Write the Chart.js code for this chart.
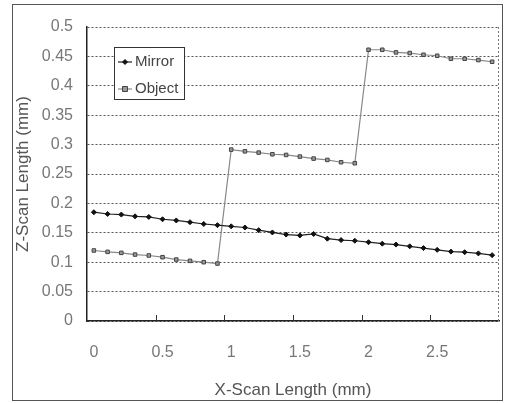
<!DOCTYPE html>
<html><head><meta charset="utf-8">
<script src="https://cdn.jsdelivr.net/npm/chart.js@4.4.1/dist/chart.umd.min.js"></script>
<style>
html,body{margin:0;padding:0;background:#fff;}
#wrap{position:relative;width:506px;height:403px;}
#frame{position:absolute;left:12px;top:4px;width:491px;height:397px;border:1px solid #555;box-sizing:border-box;pointer-events:none;}
canvas{position:absolute;left:0;top:0;}
</style></head><body>
<div id="wrap"><canvas id="c" width="506" height="403" style="width:506px;height:403px"></canvas><div id="frame"></div></div>
<script>
const xValues = [0,0.1,0.2,0.3,0.4,0.5,0.6,0.7,0.8,0.9,1.0,1.1,1.2,1.3,1.4,1.5,1.6,1.7,1.8,1.9,2.0,2.1,2.2,2.3,2.4,2.5,2.6,2.7,2.8,2.9];
const xTickLabels = ['0','0.5','1','1.5','2','2.5'];
const yTickLabels = ['0','0.05','0.1','0.15','0.2','0.25','0.3','0.35','0.4','0.45','0.5'];
const mirror = [0.185,0.182,0.181,0.178,0.177,0.173,0.171,0.168,0.165,0.163,0.161,0.159,0.1545,0.1506,0.147,0.1455,0.148,0.140,0.1376,0.1365,0.134,0.1315,0.130,0.127,0.124,0.121,0.118,0.117,0.115,0.112];
const object = [0.1199,0.1176,0.1159,0.113,0.1114,0.1085,0.1045,0.1023,0.100,0.0977,0.2915,0.2886,0.2864,0.2836,0.2824,0.2796,0.2762,0.2739,0.270,0.2683,0.4613,0.4613,0.4568,0.4557,0.4528,0.4511,0.446,0.446,0.4438,0.4409];

const FONT = "'Liberation Sans',Arial,sans-serif";

const extras = {
  id:'extras',
  afterDraw(chart){
    const {ctx, chartArea:a, scales:{x}} = chart;
    ctx.save();
    // right dotted edge
    ctx.strokeStyle='#777'; ctx.lineWidth=1; ctx.setLineDash([2,2]);
    ctx.beginPath(); ctx.moveTo(a.right-0.5,a.top); ctx.lineTo(a.right-0.5,a.bottom); ctx.stroke();
    ctx.setLineDash([]);
    // inward tick marks at category boundaries every 5 categories
    ctx.strokeStyle='#333';
    for(let i=5;i<xValues.length;i+=5){
      const px = Math.round((x.getPixelForValue(i-1)+x.getPixelForValue(i))/2)+0.5;
      ctx.beginPath(); ctx.moveTo(px,a.bottom); ctx.lineTo(px,a.bottom-6); ctx.stroke();
    }
    // legend
    const x0 = a.left+27, y0 = a.top+20, w=70, h=52;
    ctx.fillStyle='#fff'; ctx.fillRect(x0,y0,w,h);
    ctx.strokeStyle='#333'; ctx.strokeRect(x0+0.5,y0+0.5,w,h);
    chart.data.datasets.forEach((ds,i)=>{
      const cy = y0+15+i*27;
      ctx.strokeStyle=ds.borderColor; ctx.lineWidth=1.2;
      ctx.beginPath(); ctx.moveTo(x0+4,cy); ctx.lineTo(x0+18,cy); ctx.stroke();
      ctx.fillStyle=ds.pointBackgroundColor; ctx.strokeStyle=ds.pointBorderColor; ctx.lineWidth=1;
      const r=ds.pointRadius, cx=x0+11;
      ctx.beginPath();
      if(ds.pointStyle==='rectRot'){ctx.moveTo(cx,cy-r);ctx.lineTo(cx+r,cy);ctx.lineTo(cx,cy+r);ctx.lineTo(cx-r,cy);ctx.closePath();}
      else {ctx.rect(cx-r,cy-r,2*r,2*r);}
      ctx.fill(); ctx.stroke();
      ctx.fillStyle='#444'; ctx.font='15px '+FONT; ctx.textBaseline='middle'; ctx.textAlign='left';
      ctx.fillText(ds.label, x0+21, cy);
    });
    ctx.restore();
  }
};

new Chart(document.getElementById('c'), {
  type:'line',
  data:{
    labels: xValues.map(String),
    datasets:[
      {label:'Mirror', data:mirror, borderColor:'#222', borderWidth:1.2, pointStyle:'rectRot', pointRadius:2.5,
       pointBackgroundColor:'#111', pointBorderColor:'#111', pointBorderWidth:1, tension:0},
      {label:'Object', data:object, borderColor:'#888', borderWidth:1.2, pointStyle:'rect', pointRadius:2.5,
       pointBackgroundColor:'#999', pointBorderColor:'#444', pointBorderWidth:1, tension:0}
    ]
  },
  options:{
    responsive:false, animation:false, devicePixelRatio:1,
    layout:{padding:{left:0,right:7,top:27,bottom:0}},
    plugins:{legend:{display:false}, tooltip:{enabled:false}},
    scales:{
      x:{
        type:'category', offset:true,
        grid:{display:true, drawOnChartArea:false, drawTicks:true, tickLength:22, tickColor:'rgba(0,0,0,0)', color:'rgba(0,0,0,0)'},
        border:{display:true, color:'#222', width:1.5},
        ticks:{autoSkip:false, maxRotation:0, minRotation:0, padding:0, color:'#777', font:{family:FONT,size:16},
               callback:(v,i)=> i%5===0 ? xTickLabels[i/5] : ''},
        title:{display:true, text:'X-Scan Length (mm)', color:'#555', font:{family:FONT,size:17}, padding:{top:2,bottom:2}},
        afterFit:s=>{s.height=82;}
      },
      y:{
        min:0, max:0.5,
        ticks:{stepSize:0.05, padding:14, color:'#777', font:{family:FONT,size:16},
               callback:(v)=> yTickLabels[Math.round(v/0.05)]},
        grid:{color:'#555', drawTicks:false, lineWidth:1},
        border:{display:true, color:'#222', width:1.5, dash:[2,2]},
        title:{display:true, text:'Z-Scan Length (mm)', color:'#555', font:{family:FONT,size:17}, padding:{top:13,bottom:4}},
        afterFit:s=>{s.width=87;}
      }
    }
  },
  plugins:[extras]
});
</script>
</body></html>
